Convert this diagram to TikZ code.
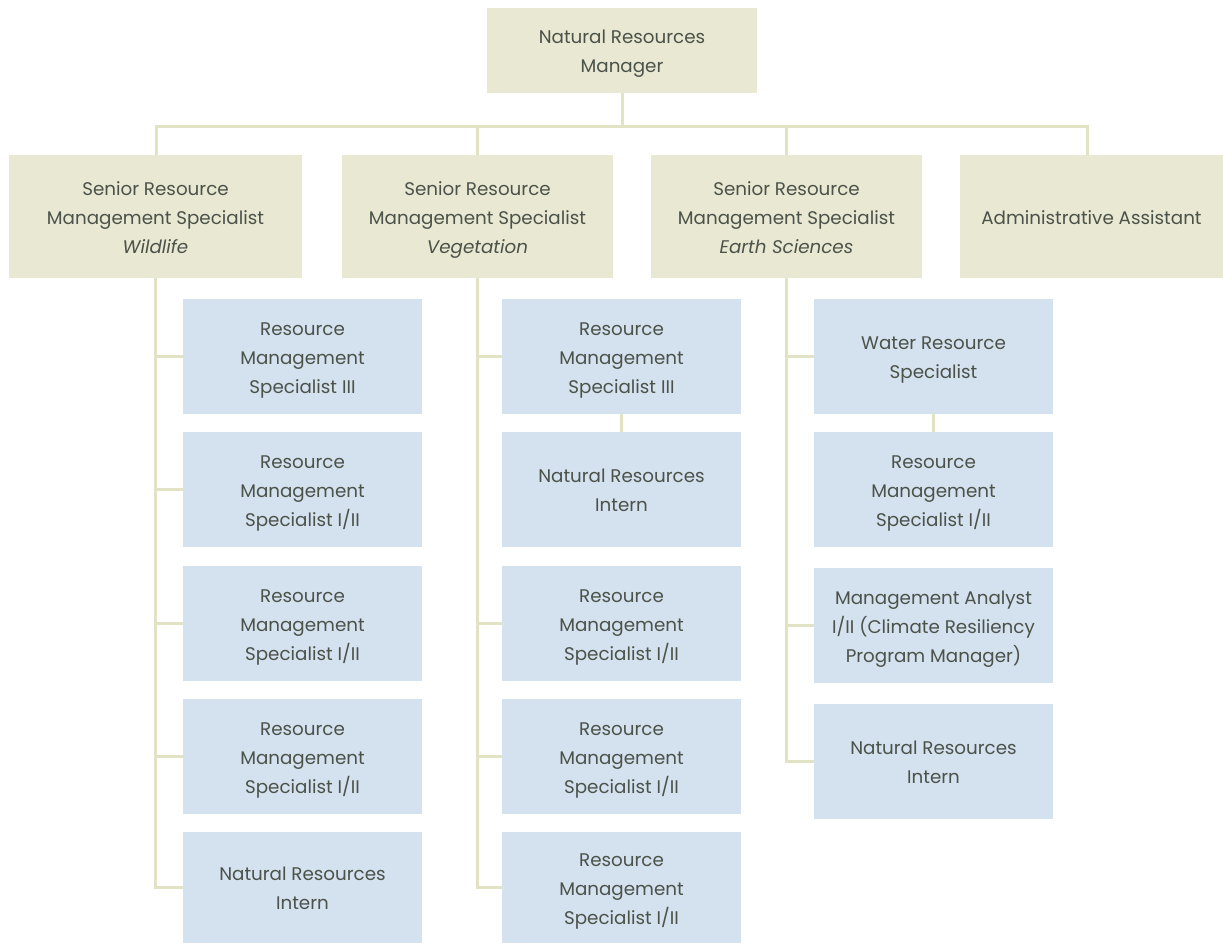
\documentclass[tikz,border=0pt]{standalone}
\usepackage{fontspec}
\setmainfont{Poppins}
\definecolor{tan}{HTML}{E9E9D3}
\definecolor{sky}{HTML}{D4E1EE}
\definecolor{wire}{HTML}{E2E2C4}
\definecolor{ink}{HTML}{4B5249}
\newcommand{\hi}{\rule[-8.7pt]{0pt}{33pt}}
\tikzset{
  boss/.style={fill=tan,text=ink,align=center,inner sep=0pt,minimum width=270pt,minimum height=85pt},
  lead/.style={fill=tan,text=ink,align=center,inner sep=0pt,minimum height=123pt},
  staff/.style={fill=sky,text=ink,align=center,inner sep=0pt,minimum width=239pt,minimum height=115pt},
  link/.style={draw=wire,line width=3pt}
}
\begin{document}
\begin{tikzpicture}[x=1pt,y=-1pt,font=\fontsize{18.3}{29}\selectfont]
\useasboundingbox (0,0) rectangle (1223,943);
% top
\node[boss] (mgr) at (622,50.5) {\hi Natural Resources\\Manager\strut};
% seniors
\node[lead,minimum width=293pt] (wl) at (155.5,216.5) {\hi Senior Resource\\Management Specialist\\\textit{Wildlife}\strut};
\node[lead,minimum width=271pt] (vg) at (477.5,216.5) {\hi Senior Resource\\Management Specialist\\\textit{Vegetation}\strut};
\node[lead,minimum width=271pt] (es) at (786.5,216.5) {\hi Senior Resource\\Management Specialist\\\textit{Earth Sciences}\strut};
\node[lead,minimum width=263pt] (adm) at (1091.5,216.5) {\hi Administrative Assistant\strut};
% wildlife staff
\node[staff] (w1) at (302.5,356.5) {\hi Resource\\Management\\Specialist III\strut};
\node[staff] (w2) at (302.5,489.5) {\hi Resource\\Management\\Specialist I/II\strut};
\node[staff] (w3) at (302.5,623.5) {\hi Resource\\Management\\Specialist I/II\strut};
\node[staff] (w4) at (302.5,756.5) {\hi Resource\\Management\\Specialist I/II\strut};
\node[staff,minimum height=111pt] (w5) at (302.5,887.5) {\hi Natural Resources\\Intern\strut};
% vegetation staff
\node[staff] (v1) at (621.5,356.5) {\hi Resource\\Management\\Specialist III\strut};
\node[staff] (v2) at (621.5,489.5) {\hi Natural Resources\\Intern\strut};
\node[staff] (v3) at (621.5,623.5) {\hi Resource\\Management\\Specialist I/II\strut};
\node[staff] (v4) at (621.5,756.5) {\hi Resource\\Management\\Specialist I/II\strut};
\node[staff,minimum height=111pt] (v5) at (621.5,887.5) {\hi Resource\\Management\\Specialist I/II\strut};
% earth sciences staff
\node[staff] (e1) at (933.5,356.5) {\hi Water Resource\\Specialist\strut};
\node[staff] (e2) at (933.5,489.5) {\hi Resource\\Management\\Specialist I/II\strut};
\node[staff] (e3) at (933.5,625.5) {\hi Management Analyst\\I/II (Climate Resiliency\\Program Manager)\strut};
\node[staff] (e4) at (933.5,761.5) {\hi Natural Resources\\Intern\strut};
% bus
\coordinate (busL) at (156,126);
\coordinate (busR) at (1087,126);
\draw[link] (mgr.south) -- (mgr.south |- busL);
\draw[link] (wl.north -| busL) -- (busL) -- (busR) -- (busR |- adm.north);
\draw[link] (vg.north) -- (vg.north |- busL);
\draw[link] (es.north) -- (es.north |- busL);
% spines
\draw[link] (wl.south) |- (w5.west);
\foreach \n in {w1,w2,w3,w4}
  \draw[link] (wl.south |- \n.west) -- (\n.west);
\draw[link] (vg.south) |- (v5.west);
\foreach \n in {v1,v3,v4}
  \draw[link] (vg.south |- \n.west) -- (\n.west);
\draw[link] (v1.south) -- (v2.north);
\draw[link] (es.south) |- (e4.west);
\foreach \n in {e1,e3}
  \draw[link] (es.south |- \n.west) -- (\n.west);
\draw[link] (e1.south) -- (e2.north);
\end{tikzpicture}
\end{document}
